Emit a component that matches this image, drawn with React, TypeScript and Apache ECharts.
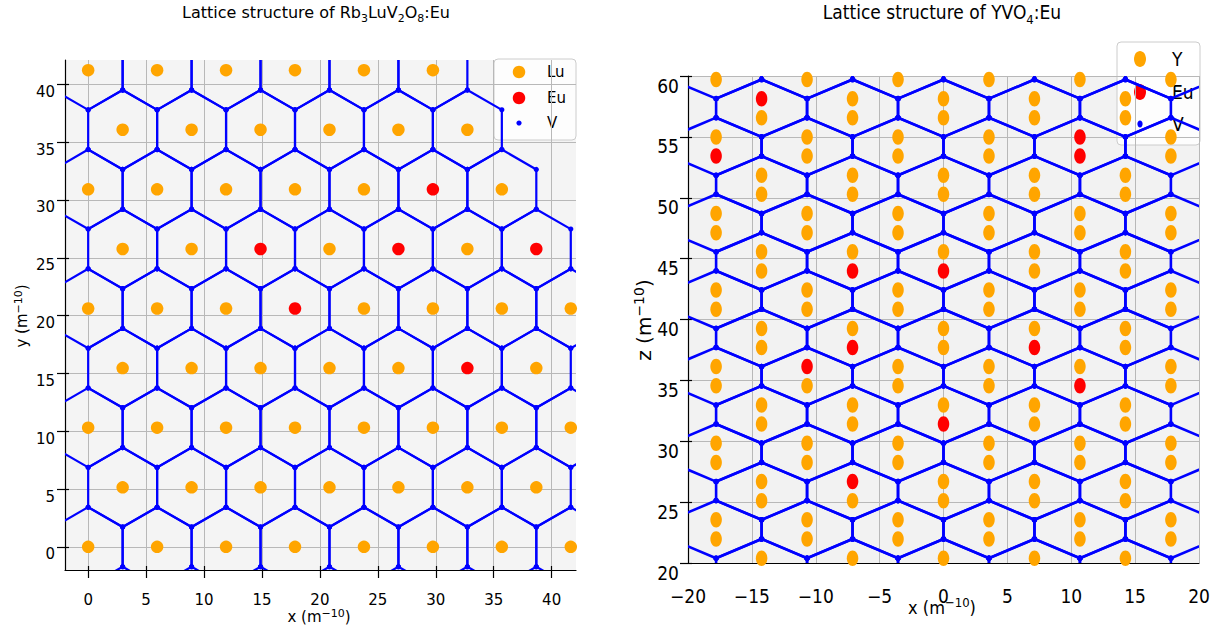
import { useEffect, useRef } from 'react';
import * as echarts from 'echarts';

const BLUE = '#0000ff';
const ORANGE = '#ffa500';
const RED = '#ff0000';
const FONT = '"DejaVu Sans", sans-serif';
const FONT_NARROW = '"DejaVu Sans Condensed", "Liberation Sans Narrow", "DejaVu Sans", sans-serif';

// ---------- Rb3LuV2O8:Eu, x–y plane (Å) ----------
// Lu/Eu sites row by row, bottom to top
const rbRowY = [0, 5.15, 10.31, 15.46, 20.61, 25.76, 30.92, 36.07, 41.22];
const rbRowX = [
  [0, 5.95, 11.9, 17.85, 23.8, 29.75, 35.7, 41.65],
  [2.975, 8.925, 14.875, 20.825, 26.775, 32.725, 38.675],
  [0, 5.95, 11.9, 17.85, 23.8, 29.75, 35.7, 41.65],
  [2.975, 8.925, 14.875, 20.825, 26.775, 32.725, 38.675],
  [0, 5.95, 11.9, 17.85, 23.8, 29.75, 35.7, 41.65],
  [2.975, 8.925, 14.875, 20.825, 26.775, 32.725, 38.675],
  [0, 5.95, 11.9, 17.85, 23.8, 29.75, 35.7],
  [2.975, 8.925, 14.875, 20.825, 26.775, 32.725],
  [0, 5.95, 11.9, 17.85, 23.8, 29.75],
];
// Eu substituted on Lu sites
const rbEu = [
  [32.725, 15.46],
  [17.85, 20.61],
  [14.875, 25.76],
  [26.775, 25.76],
  [38.675, 25.76],
  [29.75, 30.92],
];
const rbSpacing = 5.95; // Lu–Lu distance, sets the V honeycomb around each site
const rbTicks = [0, 5, 10, 15, 20, 25, 30, 35, 40];

// ---------- YVO4:Eu, x–z plane (Å) ----------
// Y sites come in vertical pairs; the two column families are offset in z
const yvoColsA = [-14.24, -7.12, 0, 7.12, 14.24];
const yvoColsB = [-17.8, -10.68, -3.56, 3.56, 10.68, 17.8];
const yvoPairsA = [
  [18.83, 20.4], [25.12, 26.69], [31.41, 32.98], [37.7, 39.27],
  [43.99, 45.56], [50.28, 51.85], [56.57, 58.14],
];
const yvoPairsB = [
  [21.97, 23.55], [28.26, 29.84], [34.55, 36.13], [40.84, 42.42],
  [47.13, 48.71], [53.42, 55.0], [59.71, 61.28],
];
// Eu substituted on Y sites
const yvoEu = [
  [-7.12, 26.69],
  [0, 31.41],
  [10.68, 34.55],
  [-10.68, 36.13],
  [-7.12, 37.7],
  [7.12, 37.7],
  [-7.12, 43.99],
  [0, 43.99],
  [-17.8, 53.42],
  [10.68, 53.42],
  [10.68, 55.0],
  [-14.24, 58.14],
];
const yvoHalfCol = 3.56; // half the column spacing, sets the V network width

const sameSite = (p: number[], q: number[]) =>
  Math.abs(p[0] - q[0]) < 1e-6 && Math.abs(p[1] - q[1]) < 1e-6;

const rbSites = rbRowY.flatMap((y, i) => rbRowX[i].map((x) => [x, y]));
const rbLu = rbSites.filter((p) => !rbEu.some((e) => sameSite(p, e)));

const yvoCells = [
  ...yvoColsA.flatMap((x) => yvoPairsA.map(([lo, hi]) => [x, lo, hi])),
  ...yvoColsB.flatMap((x) => yvoPairsB.map(([lo, hi]) => [x, lo, hi])),
];
const yvoSites = yvoCells.flatMap(([x, lo, hi]) => [
  [x, lo],
  [x, hi],
]);
const yvoY = yvoSites.filter((p) => !yvoEu.some((e) => sameSite(p, e)));

const ELLIPSE =
  'path://M0.5,0C0.776,0,1,0.224,1,0.5C1,0.776,0.776,1,0.5,1C0.224,1,0,0.776,0,0.5C0,0.224,0.224,0,0.5,0Z';

const minusFmt = (v: number) => (v < 0 ? '\u2212' + Math.abs(v) : String(v));

function hexGroup(pts: number[][], lineWidth: number, dotR: number) {
  return {
    type: 'group',
    children: [
      {
        type: 'polygon',
        shape: { points: pts },
        style: { fill: 'none', stroke: BLUE, lineWidth, lineJoin: 'round' },
      },
      ...pts.map((p) => ({
        type: 'circle',
        shape: { cx: p[0], cy: p[1], r: dotR },
        style: { fill: BLUE },
      })),
    ],
  };
}

// V honeycomb cell around one Lu/Eu site
const rbHexRender = (_params: any, api: any) => {
  const x = api.value(0);
  const y = api.value(1);
  const h = rbSpacing / 2;
  const r = rbSpacing / Math.sqrt(3);
  const offs = [
    [0, r], [h, r / 2], [h, -r / 2], [0, -r], [-h, -r / 2], [-h, r / 2],
  ];
  const pts = offs.map(([dx, dy]) => api.coord([x + dx, y + dy]));
  return hexGroup(pts, 2.2, 2.6);
};

// V network cell around one Y pair
const yvoHexRender = (_params: any, api: any) => {
  const x = api.value(0);
  const lo = api.value(1);
  const hi = api.value(2);
  const s = hi - lo;
  const d = yvoHalfCol;
  const raw = [
    [x, lo - s], [x + d, lo], [x + d, hi], [x, hi + s], [x - d, hi], [x - d, lo],
  ];
  const pts = raw.map((p) => api.coord(p));
  return hexGroup(pts, 2.6, 2.8);
};

// n: normal text, s: subscript, p: superscript
const subRich = (size: number, family: string, extra: number) => ({
  n: { fontSize: size, fontFamily: family, fill: '#000', lineHeight: size + extra },
  s: {
    fontSize: Math.round(size * 0.7),
    fontFamily: family,
    fill: '#000',
    lineHeight: Math.round(size * 0.7) + 3,
    verticalAlign: 'bottom',
  },
  p: {
    fontSize: Math.round(size * 0.7),
    fontFamily: family,
    fill: '#000',
    lineHeight: Math.round(size * 0.7),
    verticalAlign: 'top',
  },
});

function richText(
  x: number, y: number, text: string, size: number, family: string, rotation = 0, extra = 8,
) {
  return {
    type: 'text',
    x,
    y,
    rotation,
    silent: true,
    z: 50,
    style: {
      text,
      align: 'center',
      verticalAlign: 'middle',
      fontSize: size,
      fontFamily: family,
      fill: '#000',
      rich: subRich(size, family, extra),
    },
  };
}

function legendGraphic(
  box: { x: number; y: number; w: number; h: number },
  items: { label: string; color: string; rx: number; ry: number; cy: number }[],
  markerX: number,
  textX: number,
  size: number,
  family: string,
) {
  return {
    type: 'group',
    z: 100,
    silent: true,
    children: [
      {
        type: 'rect',
        shape: { x: box.x, y: box.y, width: box.w, height: box.h, r: 4 },
        style: { fill: 'rgba(255,255,255,0.8)', stroke: '#cccccc', lineWidth: 1 },
      },
      ...items.map((it) => ({
        type: 'ellipse',
        shape: { cx: markerX, cy: it.cy, rx: it.rx, ry: it.ry },
        style: { fill: it.color },
      })),
      ...items.map((it) => ({
        type: 'text',
        x: textX,
        y: it.cy,
        style: {
          text: it.label,
          fontSize: size,
          fontFamily: family,
          fill: '#000',
          align: 'left',
          verticalAlign: 'middle',
        },
      })),
    ],
  };
}

export default function App() {
  const ref = useRef<HTMLDivElement>(null);

  useEffect(() => {
    if (!ref.current) return;
    const chart = echarts.init(ref.current, undefined, { renderer: 'svg' });

    const axisLineStyle = { color: '#000', width: 1.2 };
    const split = { show: true, lineStyle: { color: '#b8b8b8', width: 1 } };

    const rbX = { type: 'value', gridIndex: 0, min: -2, max: 42.1 };
    const rbY = { type: 'value', gridIndex: 0, min: -2, max: 42.1 };
    const yvX = { type: 'value', gridIndex: 1, min: -20, max: 20, interval: 5 };
    const yvY = { type: 'value', gridIndex: 1, min: 20, max: 60, interval: 5 };

    const option: any = {
      animation: false,
      grid: [
        { left: 65, top: 60, width: 511, height: 510, show: true, backgroundColor: '#f4f4f4', borderWidth: 0 },
        { left: 688, top: 76, width: 511, height: 487, show: true, backgroundColor: '#f2f2f2', borderWidth: 0 },
      ],
      xAxis: [
        {
          ...rbX,
          position: 'bottom',
          axisLine: { show: true, onZero: false, lineStyle: axisLineStyle },
          axisTick: { show: true, length: 8, customValues: rbTicks, lineStyle: axisLineStyle },
          axisLabel: { customValues: rbTicks, fontSize: 15, fontFamily: FONT, color: '#000', margin: 22 },
          splitLine: split,
        },
        {
          ...rbX,
          position: 'bottom',
          axisLine: { show: false, onZero: false },
          axisTick: { show: true, inside: true, length: 4, customValues: rbTicks, lineStyle: axisLineStyle },
          axisLabel: { show: false },
          splitLine: { show: false },
        },
        {
          ...yvX,
          position: 'bottom',
          axisLine: { show: true, onZero: false, lineStyle: axisLineStyle },
          axisTick: { show: false },
          axisLabel: { fontSize: 19, fontFamily: FONT_NARROW, color: '#000', margin: 23, formatter: minusFmt },
          splitLine: split,
        },
      ],
      yAxis: [
        {
          ...rbY,
          position: 'left',
          axisLine: { show: true, onZero: false, lineStyle: axisLineStyle },
          axisTick: { show: true, length: 8, customValues: rbTicks, lineStyle: axisLineStyle },
          axisLabel: {
            customValues: rbTicks, fontSize: 15, fontFamily: FONT, color: '#000', margin: 10, verticalAlign: 'top',
          },
          splitLine: split,
        },
        {
          ...rbY,
          position: 'left',
          axisLine: { show: false, onZero: false },
          axisTick: { show: true, inside: true, length: 4, customValues: rbTicks, lineStyle: axisLineStyle },
          axisLabel: { show: false },
          splitLine: { show: false },
        },
        {
          ...yvY,
          position: 'left',
          axisLine: { show: true, onZero: false, lineStyle: axisLineStyle },
          axisTick: { show: true, length: 8, lineStyle: axisLineStyle },
          axisLabel: {
            fontSize: 19, fontFamily: FONT_NARROW, color: '#000', margin: 9, verticalAlign: 'top', formatter: minusFmt,
          },
          splitLine: split,
        },
        {
          ...yvY,
          position: 'left',
          axisLine: { show: false, onZero: false },
          axisTick: { show: true, inside: true, length: 4, lineStyle: axisLineStyle },
          axisLabel: { show: false },
          splitLine: { show: false },
        },
      ],
      series: [
        {
          name: 'V',
          type: 'custom',
          xAxisIndex: 0,
          yAxisIndex: 0,
          clip: true,
          silent: true,
          z: 2,
          renderItem: rbHexRender,
          encode: { x: 0, y: 1 },
          data: rbSites,
        },
        {
          name: 'Lu',
          type: 'scatter',
          xAxisIndex: 0,
          yAxisIndex: 0,
          z: 3,
          symbol: 'circle',
          symbolSize: 12.5,
          itemStyle: { color: ORANGE, opacity: 1 },
          data: rbLu,
        },
        {
          name: 'Eu',
          type: 'scatter',
          xAxisIndex: 0,
          yAxisIndex: 0,
          z: 3,
          symbol: 'circle',
          symbolSize: 12.5,
          itemStyle: { color: RED, opacity: 1 },
          data: rbEu,
        },
        {
          name: 'V ',
          type: 'custom',
          xAxisIndex: 2,
          yAxisIndex: 2,
          clip: true,
          silent: true,
          z: 2,
          renderItem: yvoHexRender,
          encode: { x: 0, y: [1, 2] },
          data: yvoCells,
        },
        {
          name: 'Y',
          type: 'scatter',
          xAxisIndex: 2,
          yAxisIndex: 2,
          z: 3,
          symbol: ELLIPSE,
          symbolSize: [11.5, 15.5],
          itemStyle: { color: ORANGE, opacity: 1 },
          data: yvoY,
        },
        {
          name: 'Eu ',
          type: 'scatter',
          xAxisIndex: 2,
          yAxisIndex: 2,
          z: 3,
          symbol: ELLIPSE,
          symbolSize: [11.5, 15.5],
          itemStyle: { color: RED, opacity: 1 },
          data: yvoEu,
        },
      ],
      graphic: [
        richText(316, 12, '{n|Lattice structure of Rb}{s|3}{n|LuV}{s|2}{n|O}{s|8}{n|:Eu}', 16, FONT),
        richText(942, 12, '{n|Lattice structure of YVO}{s|4}{n|:Eu}', 19, FONT_NARROW),
        richText(319, 617, '{n|x (m}{p|\u221210}{n|)}', 15, FONT, 0, 4),
        richText(22, 316, '{n|y (m}{p|\u221210}{n|)}', 15, FONT, Math.PI / 2, 4),
        richText(942, 607, '{n|x (m}{p|\u221210}{n|)}', 18, FONT_NARROW, 0, 4),
        richText(644, 320, '{n|z (m}{p|\u221210}{n|)}', 20, FONT, Math.PI / 2, 4),
        legendGraphic(
          { x: 494, y: 59, w: 82, h: 81 },
          [
            { label: 'Lu', color: ORANGE, rx: 6.25, ry: 6.25, cy: 72 },
            { label: 'Eu', color: RED, rx: 6.25, ry: 6.25, cy: 98 },
            { label: 'V', color: BLUE, rx: 2.6, ry: 2.6, cy: 123 },
          ],
          519,
          547,
          15,
          FONT,
        ),
        legendGraphic(
          { x: 1117, y: 42, w: 83, h: 103 },
          [
            { label: 'Y', color: ORANGE, rx: 6, ry: 8, cy: 59 },
            { label: 'Eu', color: RED, rx: 6, ry: 8, cy: 92 },
            { label: 'V', color: BLUE, rx: 2.6, ry: 3.4, cy: 124 },
          ],
          1140,
          1172,
          19,
          FONT_NARROW,
        ),
      ],
    };

    chart.setOption(option);
    return () => chart.dispose();
  }, []);

  return (
    <div
      ref={ref}
      style={{ position: 'fixed', left: 0, top: 0, width: 1217, height: 628, background: '#fff' }}
    />
  );
}
